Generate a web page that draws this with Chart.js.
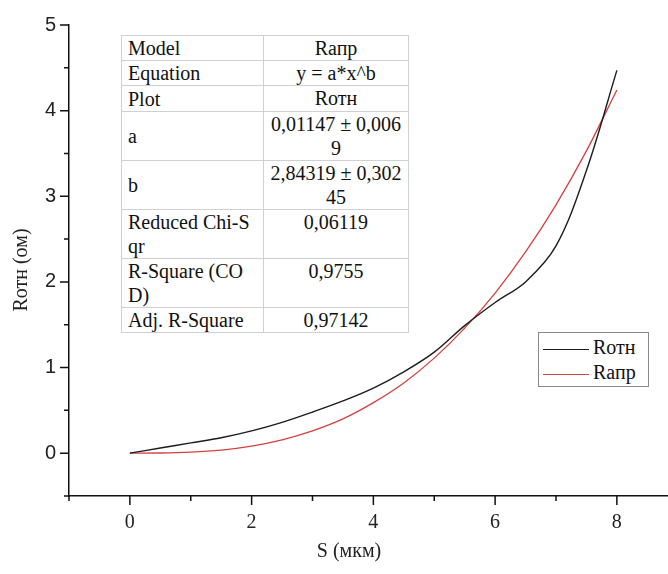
<!DOCTYPE html>
<html>
<head>
<meta charset="utf-8">
<script src="https://cdn.jsdelivr.net/npm/chart.js@4.4.1/dist/chart.umd.min.js"></script>
<style>
  html, body { margin: 0; padding: 0; background: #fff; }
  #wrap { position: relative; width: 668px; height: 574px; }
  #plot { position: absolute; left: 0; top: 0; }
  #fit {
    position: absolute; left: 121px; top: 35px; width: 288px;
    border-collapse: collapse; table-layout: fixed; background: #fff;
    border: 1.5px solid #8a8a8a;
    font-family: "Liberation Serif", serif; font-size: 20px; color: #111;
  }
  #fit td { border: 1px solid #d0d0d0; padding: 0 4px 0 6px; line-height: 24px; white-space: nowrap; }
  #fit td.k { width: 131px; vertical-align: middle; }
  #fit td.v { text-align: center; vertical-align: top; padding: 0 2px; }
  #legend {
    position: absolute; left: 538px; top: 332px; width: 109px; height: 53px;
    border: 1px solid #8a8a8a; background: #fff;
    font-family: "Liberation Serif", serif; font-size: 20px; color: #111;
  }
  #legend div { position: absolute; left: 4px; height: 24px; line-height: 24px; white-space: nowrap; }
  #legend span { display: inline-block; width: 46px; height: 0; vertical-align: middle; margin-right: 4px; }
</style>
</head>
<body>
<div id="wrap">
  <canvas id="plot" width="668" height="574"></canvas>
  <table id="fit"></table>
  <div id="legend"></div>
</div>
<script>
// values
const sValues = [0, 0.5, 1, 1.5, 2, 2.5, 3, 3.5, 4, 4.5, 5, 5.5, 6, 6.5, 7, 7.5, 8];
const rOtn    = [0, 0.06, 0.12, 0.18, 0.26, 0.36, 0.48, 0.61, 0.76, 0.95, 1.18, 1.49, 1.76, 2.0, 2.42, 3.3, 4.47];
const rApr    = [0, 0.002, 0.012, 0.036, 0.082, 0.155, 0.26, 0.40, 0.59, 0.82, 1.11, 1.46, 1.87, 2.35, 2.9, 3.53, 4.24];
const seriesNames = ['Rотн', 'Rапр'];
const seriesColors = ['#1c1c1c', '#d4403f'];

const fitRows = [
  ['Model', 'Rапр', 25],
  ['Equation', 'y = a*x^b', 25],
  ['Plot', 'Rотн', 26],
  ['a', '0,01147 ± 0,006<br>9', 48],
  ['b', '2,84319 ± 0,302<br>45', 49],
  ['Reduced Chi-S<br>qr', '0,06119', 49],
  ['R-Square (CO<br>D)', '0,9755', 49],
  ['Adj. R-Square', '0,97142', 25]
];

document.getElementById('fit').innerHTML = fitRows.map(r =>
  '<tr style="height:' + r[2] + 'px"><td class="k">' + r[0] + '</td><td class="v">' + r[1] + '</td></tr>'
).join('');

document.getElementById('legend').innerHTML = seriesNames.map((n, i) =>
  '<div style="top:' + (2 + i * 25) + 'px"><span style="border-top:1.3px solid ' + seriesColors[i] + '"></span>' + n + '</div>'
).join('');

function points(ys) {
  return sValues.map((x, i) => ({ x: x, y: ys[i] }));
}

const axisTicks = {
  id: 'axisTicks',
  afterDraw(chart) {
    const { ctx, chartArea: a, scales: { x, y } } = chart;
    ctx.save();
    ctx.strokeStyle = '#111';
    ctx.lineWidth = 1.5;
    ctx.beginPath();
    x.ticks.forEach(t => {
      const px = x.getPixelForValue(t.value);
      const len = t.value % 2 === 0 ? 9 : 5;
      ctx.moveTo(px, a.bottom);
      ctx.lineTo(px, a.bottom + len);
    });
    y.ticks.forEach(t => {
      const py = y.getPixelForValue(t.value);
      const len = Number.isInteger(t.value) ? 9 : 5;
      ctx.moveTo(a.left, py);
      ctx.lineTo(a.left - len, py);
    });
    ctx.stroke();

    ctx.fillStyle = '#222';
    ctx.font = '20px "Liberation Serif"';
    ctx.textAlign = 'center';
    ctx.textBaseline = 'middle';
    ctx.fillText('S (мкм)', 349, 552);
    ctx.translate(22, 270);
    ctx.rotate(-Math.PI / 2);
    ctx.fillText('Rотн (ом)', 0, 0);
    ctx.restore();
  }
};

new Chart(document.getElementById('plot'), {
  type: 'line',
  data: {
    datasets: [{
      label: seriesNames[0],
      data: points(rOtn),
      borderColor: seriesColors[0],
      borderWidth: 1.4,
      pointRadius: 0,
      tension: 0.35
    }, {
      label: seriesNames[1],
      data: points(rApr),
      borderColor: seriesColors[1],
      borderWidth: 1.3,
      pointRadius: 0,
      cubicInterpolationMode: 'monotone'
    }]
  },
  options: {
    responsive: false,
    animation: false,
    layout: { padding: { top: 16, left: 0, right: 0, bottom: 0 } },
    plugins: { legend: { display: false }, tooltip: { enabled: false } },
    scales: {
      x: {
        type: 'linear',
        min: -1,
        max: 8.84,
        afterFit(scale) { scale.height = 78; },
        border: { display: true, color: '#111', width: 1.5 },
        grid: { display: true, drawOnChartArea: false, drawTicks: false },
        ticks: {
          stepSize: 1,
          includeBounds: false,
          autoSkip: false,
          maxRotation: 0,
          padding: 15,
          color: '#222',
          font: { family: '"Liberation Serif"', size: 20 },
          callback: v => (v % 2 === 0 ? v : '')
        }
      },
      y: {
        min: -0.5,
        max: 5,
        afterFit(scale) { scale.width = 69; },
        border: { display: true, color: '#111', width: 1.5 },
        grid: { display: true, drawOnChartArea: false, drawTicks: false },
        ticks: {
          stepSize: 0.5,
          includeBounds: false,
          autoSkip: false,
          padding: 13,
          color: '#222',
          font: { family: '"Liberation Sans"', size: 20 },
          callback: v => (Number.isInteger(v) ? v : '')
        }
      }
    }
  },
  plugins: [axisTicks]
});
</script>
</body>
</html>
